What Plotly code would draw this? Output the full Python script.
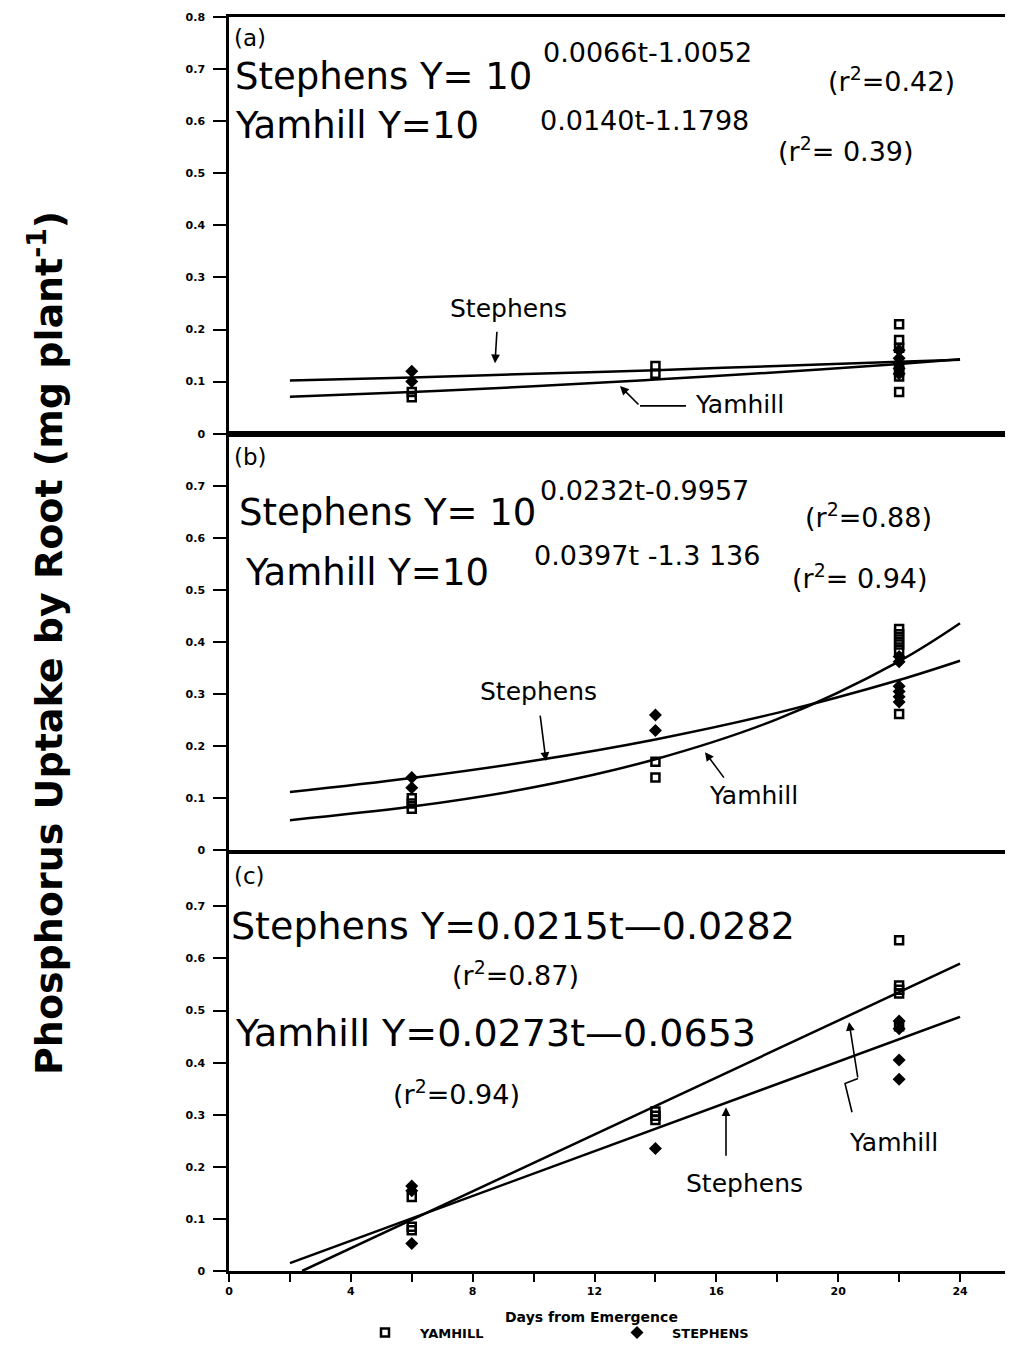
import plotly.graph_objects as go

# ---------------- data ----------------
DAYS_TICKS = [0, 4, 8, 12, 16, 20, 24]
Y_TICKS_A = [0, 0.1, 0.2, 0.3, 0.4, 0.5, 0.6, 0.7, 0.8]
Y_TICKS_BC = [0, 0.1, 0.2, 0.3, 0.4, 0.5, 0.6, 0.7]

# panel (a)
A_YAM_T = [6, 6, 14, 14, 22, 22, 22, 22, 22, 22, 22]
A_YAM_P = [0.08, 0.07, 0.13, 0.115, 0.21, 0.18, 0.165, 0.13, 0.12, 0.11, 0.08]
A_STE_T = [6, 6, 22, 22, 22, 22, 22]
A_STE_P = [0.12, 0.10, 0.16, 0.145, 0.135, 0.125, 0.115]

# panel (b)
B_YAM_T = [6, 6, 6, 14, 14, 22, 22, 22, 22, 22, 22]
B_YAM_P = [0.10, 0.09, 0.08, 0.17, 0.14, 0.425, 0.415, 0.405, 0.395, 0.385, 0.262]
B_STE_T = [6, 6, 14, 14, 22, 22, 22, 22, 22, 22]
B_STE_P = [0.14, 0.12, 0.26, 0.23, 0.372, 0.362, 0.315, 0.305, 0.295, 0.285]

# panel (c)
C_YAM_T = [6, 6, 6, 14, 14, 14, 22, 22, 22, 22, 22]
C_YAM_P = [0.142, 0.085, 0.078, 0.306, 0.298, 0.29, 0.635, 0.548, 0.54, 0.533, 0.47]
C_STE_T = [6, 6, 6, 14, 22, 22, 22, 22]
C_STE_P = [0.163, 0.154, 0.053, 0.235, 0.48, 0.465, 0.405, 0.368]

# fitted curves
FIT_T = [2, 6, 10, 14, 18, 22, 24]
A_STE_FIT = [0.102, 0.108, 0.115, 0.122, 0.130, 0.138, 0.142]
A_YAM_FIT = [0.071, 0.080, 0.091, 0.104, 0.118, 0.134, 0.143]
B_STE_FIT = [0.112, 0.139, 0.172, 0.213, 0.264, 0.327, 0.364]
B_YAM_FIT = [0.058, 0.084, 0.121, 0.175, 0.252, 0.363, 0.436]
C_STE_FIT_T = [2, 24]
C_STE_FIT = [0.015, 0.488]
C_YAM_FIT_T = [2.4, 24]
C_YAM_FIT = [0.0, 0.590]

# ---------------- layout geometry (page pixels) ----------------
W, H = 1009, 1352
L, R, T, B = 229, 4, 17, 1352 - 1281
PW, PH = W - L - R, H - T - B
Y0 = H - B


def px(x):
    return (x - L) / PW


def py(y):
    return (Y0 - y) / PH


DOM_A = [py(437), 1.0]
DOM_B = [py(857), py(437)]
DOM_C = [0.0, py(861)]

EQ_FONT = dict(family="DejaVu Sans", size=37, color="black")
EQC_FONT = dict(family="DejaVu Sans", size=38, color="black")
SUP_FONT = dict(family="DejaVu Sans", size=27, color="black")
LBL_FONT = dict(family="DejaVu Sans", size=25, color="black")
PAN_FONT = dict(family="DejaVu Sans", size=23, color="black")
TICK_FONT = dict(family="DejaVu Sans", size=11, color="black", weight="bold")
SMALL_BOLD = dict(family="DejaVu Sans", size=13, color="black", weight="bold")
XT_FONT = dict(family="DejaVu Sans", size=14, color="black", weight="bold")

fig = go.Figure()

panels = [
    ("x", "y", A_YAM_T, A_YAM_P, A_STE_T, A_STE_P,
     FIT_T, A_STE_FIT, FIT_T, A_YAM_FIT, False),
    ("x2", "y2", B_YAM_T, B_YAM_P, B_STE_T, B_STE_P,
     FIT_T, B_STE_FIT, FIT_T, B_YAM_FIT, False),
    ("x3", "y3", C_YAM_T, C_YAM_P, C_STE_T, C_STE_P,
     C_STE_FIT_T, C_STE_FIT, C_YAM_FIT_T, C_YAM_FIT, True),
]

for (xa, ya, yt, yp, st, sp, sft, sf, yft, yf, leg) in panels:
    shape = "linear" if xa == "x3" else "spline"
    fig.add_trace(go.Scatter(x=sft, y=sf, mode="lines", xaxis=xa, yaxis=ya,
                             line=dict(color="black", width=2.5, shape=shape),
                             showlegend=False, hoverinfo="skip"))
    fig.add_trace(go.Scatter(x=yft, y=yf, mode="lines", xaxis=xa, yaxis=ya,
                             line=dict(color="black", width=2.5, shape=shape),
                             showlegend=False, hoverinfo="skip"))
    fig.add_trace(go.Scatter(x=st, y=sp, mode="markers", xaxis=xa, yaxis=ya,
                             name="STEPHENS", legendgroup="s", showlegend=leg,
                             legendrank=2,
                             marker=dict(symbol="diamond", size=10, color="black",
                                         line=dict(width=0))))
    fig.add_trace(go.Scatter(x=yt, y=yp, mode="markers", xaxis=xa, yaxis=ya,
                             name="YAMHILL", legendgroup="y", showlegend=leg,
                             legendrank=1,
                             marker=dict(symbol="square-open", size=8, color="black",
                                         line=dict(width=2.5, color="black"))))

xcommon = dict(range=[0, PW / 30.46], showline=True, linecolor="black",
               linewidth=2.5, mirror=True, showgrid=False, zeroline=False)


def yaxis(dom, vals):
    return dict(domain=dom, range=[0, 0.8], showline=True, linecolor="black",
                linewidth=2.5, showgrid=False, zeroline=False, ticks="outside",
                ticklen=13, tickwidth=2, tickcolor="black", tickvals=vals,
                ticktext=[("0" if v == 0 else f"{v:.1f}") for v in vals],
                tickfont=TICK_FONT, ticklabelstandoff=6)


fig.update_layout(
    width=W, height=H, plot_bgcolor="white", paper_bgcolor="white",
    margin=dict(l=L, r=R, t=T, b=B),
    xaxis=dict(**xcommon, anchor="y", showticklabels=False, ticks=""),
    xaxis2=dict(**xcommon, anchor="y2", showticklabels=False, ticks=""),
    xaxis3=dict(**xcommon, anchor="y3", tickvals=DAYS_TICKS, ticks="outside",
                ticklen=8, tickwidth=2, tickcolor="black", tickfont=TICK_FONT,
                minor=dict(ticks="outside", dtick=2, tick0=0, ticklen=8,
                           tickwidth=2, tickcolor="black")),
    yaxis=yaxis(DOM_A, Y_TICKS_A),
    yaxis2=yaxis(DOM_B, Y_TICKS_BC),
    yaxis3=yaxis(DOM_C, Y_TICKS_BC),
    showlegend=True,
    legend=dict(orientation="h", x=px(350), y=py(1343), xanchor="left",
                yanchor="middle", entrywidth=177, entrywidthmode="pixels",
                itemwidth=60, font=SMALL_BOLD,
                bgcolor="rgba(0,0,0,0)", itemclick=False, itemdoubleclick=False,
                traceorder="normal"),
)

ann = []


def text(x, y, s, font, xanchor="left", **kw):
    ann.append(dict(x=px(x), y=py(y), xref="paper", yref="paper", text=s,
                    showarrow=False, xanchor=xanchor, yanchor="middle", font=font, **kw))


def arrow(hx, hy, tx, ty):
    ann.append(dict(x=px(hx), y=py(hy), xref="paper", yref="paper", text="",
                    showarrow=True, ax=tx - hx, ay=ty - hy, arrowhead=2,
                    arrowsize=1.1, arrowwidth=1.6, arrowcolor="black"))


# panel (a)
text(232, 38, "(a)", PAN_FONT)
text(233, 77, "Stephens Y= 10", EQ_FONT)
text(541, 53, "0.0066t-1.0052", SUP_FONT)
text(826, 80, "(r<sup>2</sup>=0.42)", SUP_FONT)
text(233, 126, "Yamhill Y=10", EQ_FONT)
text(538, 121, "0.0140t-1.1798", SUP_FONT)
text(776, 151, "(r<sup>2</sup>= 0.39)", SUP_FONT)
text(508, 311, "Stephens", LBL_FONT, xanchor="center")
arrow(495, 366, 497, 333)
text(739, 408, "Yamhill", LBL_FONT, xanchor="center")
arrow(620, 389, 640, 409)

# panel (b)
text(232, 461, "(b)", PAN_FONT)
text(237, 516, "Stephens Y= 10", EQ_FONT)
text(538, 494, "0.0232t-0.9957", SUP_FONT)
text(803, 519, "(r<sup>2</sup>=0.88)", SUP_FONT)
text(243, 577, "Yamhill Y=10", EQ_FONT)
text(532, 560, "0.0397t -1.3 136", SUP_FONT)
text(790, 581, "(r<sup>2</sup>= 0.94)", SUP_FONT)
text(538, 697, "Stephens", LBL_FONT, xanchor="center")
arrow(546, 767, 540, 720)
text(753, 802, "Yamhill", LBL_FONT, xanchor="center")
arrow(705, 758, 725, 785)

# panel (c)
text(232, 883, "(c)", PAN_FONT)
text(229, 933, "Stephens Y=0.0215t\u20140.0282", EQC_FONT)
text(450, 981, "(r<sup>2</sup>=0.87)", SUP_FONT)
text(233, 1041, "Yamhill Y=0.0273t\u20140.0653", EQC_FONT)
text(391, 1101, "(r<sup>2</sup>=0.94)", SUP_FONT)
text(744, 1193, "Stephens", LBL_FONT, xanchor="center")
arrow(726, 1116, 726, 1166)
text(893, 1151, "Yamhill", LBL_FONT, xanchor="center")
arrow(849, 1030, 858, 1087)

# axis titles
text(591, 1327, "Days from Emergence", XT_FONT, xanchor="center")
ann.append(dict(x=px(46), y=py(648), xref="paper", yref="paper",
                text="Phosphorus Uptake by Root (mg plant<sup>-1</sup>)",
                showarrow=False, textangle=-90, xanchor="center", yanchor="middle",
                font=dict(family="DejaVu Sans", size=38, color="black", weight="bold")))

fig.update_layout(annotations=ann)


def path(points):
    d = "M " + " L ".join(f"{px(a)},{py(b)}" for a, b in points)
    return dict(type="path", path=d, xref="paper", yref="paper",
                line=dict(color="black", width=1.6))


fig.update_layout(shapes=[
    path([(686, 409), (640, 409)]),
    path([(852, 1121), (845, 1092), (858, 1087)]),
])

fig.write_html(
    "out.html",
    config={"displayModeBar": False},
    post_script=(
        "document.body.style.margin='0';"
        "document.documentElement.style.overflow='hidden';"
        "var gd=document.getElementById('{plot_id}');"
        "gd.style.position='fixed';gd.style.left='0';gd.style.top='0';"
    ),
)
